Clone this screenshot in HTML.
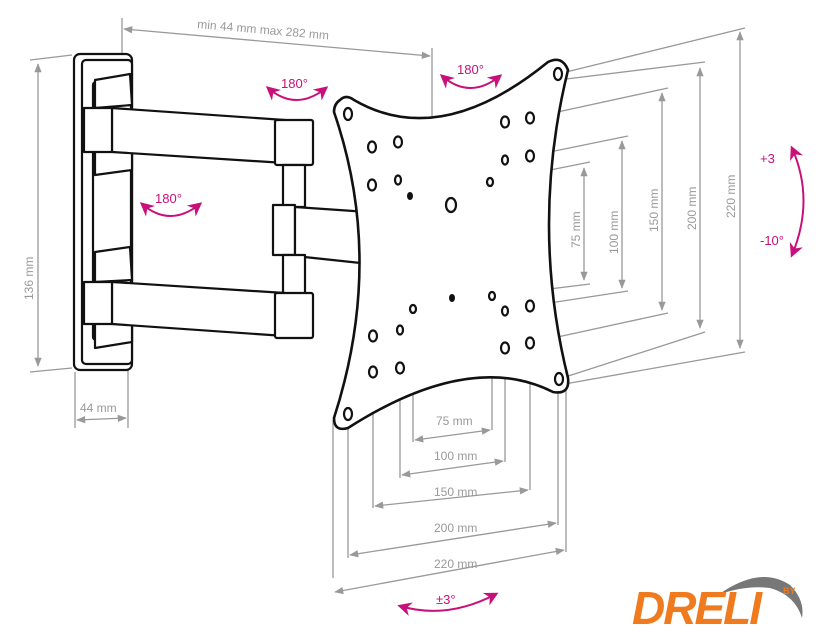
<!DOCTYPE html>
<html><head><style>body{margin:0;background:#fff}svg{display:block}</style></head><body>
<svg width="830" height="640" viewBox="0 0 830 640" xmlns="http://www.w3.org/2000/svg" font-family="Liberation Sans, sans-serif">
<defs>
<marker id="a" viewBox="0 0 10 10" refX="9" refY="5" markerWidth="9" markerHeight="7" orient="auto-start-reverse"><path d="M0,1 L10,5 L0,9 z" fill="#999"/></marker>
<marker id="m" viewBox="0 0 10 10" refX="8" refY="5" markerWidth="7" markerHeight="7" orient="auto-start-reverse"><path d="M0,0 L10,5 L0,10 L3,5 z" fill="#c8107a"/></marker>
</defs>
<g stroke="#999" stroke-width="1.3" fill="none">
<line x1="122" y1="18" x2="122" y2="60"/><line x1="432" y1="48" x2="432" y2="126"/>
<line x1="124" y1="29" x2="430" y2="56" marker-start="url(#a)" marker-end="url(#a)"/>
<line x1="30" y1="60" x2="72" y2="55"/><line x1="30" y1="372" x2="72" y2="368"/>
<line x1="38" y1="64" x2="38" y2="366" marker-start="url(#a)" marker-end="url(#a)"/>
<line x1="75" y1="372" x2="75" y2="428"/><line x1="128" y1="360" x2="128" y2="428"/>
<line x1="77" y1="420" x2="126" y2="418" marker-start="url(#a)" marker-end="url(#a)"/>
<line x1="558" y1="74" x2="745" y2="28"/><line x1="558" y1="80" x2="705" y2="62"/>
<line x1="530" y1="118" x2="668" y2="88"/><line x1="530" y1="156" x2="628" y2="136"/>
<line x1="490" y1="182" x2="590" y2="162"/>
<line x1="492" y1="296" x2="590" y2="284"/><line x1="530" y1="306" x2="628" y2="291"/>
<line x1="530" y1="343" x2="668" y2="313"/><line x1="559" y1="379" x2="705" y2="332"/>
<line x1="559" y1="385" x2="745" y2="352"/>
<line x1="584" y1="168" x2="584" y2="280" marker-start="url(#a)" marker-end="url(#a)"/>
<line x1="622" y1="141" x2="622" y2="288" marker-start="url(#a)" marker-end="url(#a)"/>
<line x1="662" y1="93" x2="662" y2="310" marker-start="url(#a)" marker-end="url(#a)"/>
<line x1="700" y1="68" x2="700" y2="328" marker-start="url(#a)" marker-end="url(#a)"/>
<line x1="740" y1="32" x2="740" y2="348" marker-start="url(#a)" marker-end="url(#a)"/>
<line x1="413" y1="309" x2="413" y2="442"/><line x1="492" y1="296" x2="492" y2="430"/>
<line x1="400" y1="368" x2="400" y2="478"/><line x1="505" y1="348" x2="505" y2="462"/>
<line x1="373" y1="372" x2="373" y2="508"/><line x1="530" y1="343" x2="530" y2="490"/>
<line x1="348" y1="414" x2="348" y2="558"/><line x1="558" y1="385" x2="558" y2="525"/>
<line x1="333" y1="420" x2="333" y2="578"/><line x1="566" y1="385" x2="566" y2="552"/>
<line x1="415" y1="440" x2="490" y2="430" marker-start="url(#a)" marker-end="url(#a)"/>
<line x1="402" y1="475" x2="503" y2="461" marker-start="url(#a)" marker-end="url(#a)"/>
<line x1="375" y1="506" x2="528" y2="490" marker-start="url(#a)" marker-end="url(#a)"/>
<line x1="350" y1="555" x2="556" y2="523" marker-start="url(#a)" marker-end="url(#a)"/>
<line x1="335" y1="592" x2="564" y2="550" marker-start="url(#a)" marker-end="url(#a)"/>
</g>
<g fill="#999" font-size="12">
<text x="197" y="28" transform="rotate(5 197 28)">min 44 mm max 282 mm</text>
<text x="33" y="300" transform="rotate(-90 33 300)">136 mm</text>
<text x="80" y="412">44 mm</text>
<text x="580" y="248" transform="rotate(-90 580 248)">75 mm</text>
<text x="618" y="254" transform="rotate(-90 618 254)">100 mm</text>
<text x="658" y="232" transform="rotate(-90 658 232)">150 mm</text>
<text x="696" y="230" transform="rotate(-90 696 230)">200 mm</text>
<text x="735" y="218" transform="rotate(-90 735 218)">220 mm</text>
<text x="436" y="425">75 mm</text><text x="434" y="460">100 mm</text>
<text x="434" y="496">150 mm</text><text x="434" y="532">200 mm</text><text x="434" y="568">220 mm</text>
</g>
<g stroke="#111" stroke-width="2.2" fill="#fff" stroke-linejoin="round">
<rect x="74" y="54" width="58" height="316" rx="6"/>
<rect x="82" y="60" width="50" height="304" rx="4"/>
<rect x="93" y="82" width="38" height="258" rx="3"/>
<path d="M95,80 L130,74 L132,105 L95,108 z"/>
<path d="M95,145 L132,145 L132,170 L95,175 z"/>
<path d="M112,108 L285,120 L285,163 L112,152 z"/>
<path d="M84,108 L112,108 L112,152 L84,152 z"/>
<rect x="275" y="120" width="38" height="45" rx="2"/>
<rect x="283" y="165" width="22" height="42"/>
<rect x="273" y="205" width="22" height="50"/>
<path d="M295,207 L368,212 L370,264 L295,256 z"/>
<rect x="283" y="255" width="22" height="40"/>
<path d="M95,252 L130,247 L132,280 L95,282 z"/>
<path d="M95,320 L132,320 L132,342 L95,348 z"/>
<path d="M112,282 L285,293 L285,336 L112,324 z"/>
<path d="M84,282 L112,282 L112,324 L84,324 z"/>
<rect x="275" y="293" width="38" height="45" rx="2"/>
<path d="M340,100 Q346,94 354,100 Q440,150 548,62 Q562,55 568,70 Q530,225 568,378 Q570,395 553,392 Q470,350 348,428 Q334,432 334,418 Q385,260 334,112 Q334,104 340,100 z" stroke-width="2.6"/>
</g>
<g stroke="#111" stroke-width="2.2" fill="#fff">
<ellipse cx="348" cy="114" rx="4" ry="6"/><ellipse cx="558" cy="74" rx="4" ry="6"/>
<ellipse cx="559" cy="379" rx="4" ry="6"/><ellipse cx="348" cy="414" rx="4" ry="6"/>
<ellipse cx="372" cy="147" rx="4" ry="5.5"/><ellipse cx="398" cy="142" rx="4" ry="5.5"/>
<ellipse cx="372" cy="185" rx="4" ry="5.5"/><ellipse cx="398" cy="180" rx="3" ry="4.5"/>
<ellipse cx="451" cy="205" rx="5" ry="7"/>
<ellipse cx="505" cy="122" rx="4" ry="5.5"/><ellipse cx="530" cy="118" rx="4" ry="5.5"/>
<ellipse cx="505" cy="160" rx="3" ry="4.5"/><ellipse cx="530" cy="156" rx="4" ry="5.5"/>
<ellipse cx="490" cy="182" rx="3" ry="4"/><ellipse cx="492" cy="296" rx="3" ry="4"/>
<ellipse cx="413" cy="309" rx="3" ry="4"/><ellipse cx="505" cy="311" rx="3" ry="4.5"/>
<ellipse cx="530" cy="306" rx="4" ry="5.5"/><ellipse cx="400" cy="330" rx="3" ry="4.5"/>
<ellipse cx="373" cy="336" rx="4" ry="5.5"/><ellipse cx="505" cy="348" rx="4" ry="5.5"/>
<ellipse cx="530" cy="343" rx="4" ry="5.5"/><ellipse cx="373" cy="372" rx="4" ry="5.5"/>
<ellipse cx="400" cy="368" rx="4" ry="5.5"/>
</g>
<g fill="#111"><ellipse cx="410" cy="196" rx="3" ry="4"/><ellipse cx="452" cy="298" rx="3" ry="4"/></g>
<g stroke="#c8107a" stroke-width="2" fill="none">
<path d="M268,88 Q296,112 326,88" marker-start="url(#m)" marker-end="url(#m)"/>
<path d="M142,204 Q170,228 200,204" marker-start="url(#m)" marker-end="url(#m)"/>
<path d="M442,76 Q470,100 500,76" marker-start="url(#m)" marker-end="url(#m)"/>
<path d="M400,606 Q447,620 496,594" marker-start="url(#m)" marker-end="url(#m)"/>
<path d="M792,148 Q815,200 792,255" marker-start="url(#m)" marker-end="url(#m)"/>
</g>
<g fill="#c8107a" font-size="13">
<text x="281" y="88">180°</text><text x="155" y="203">180°</text><text x="457" y="74">180°</text>
<text x="436" y="604">±3°</text><text x="760" y="163">+3</text><text x="760" y="245">-10°</text>
</g>
<path d="M718,595 Q760,565 790,585 Q805,600 802,618 Q795,595 770,588 Q745,585 718,595 z" fill="#777"/>
<text x="632" y="624" font-size="46" font-weight="bold" font-style="italic" fill="#f07a1e" letter-spacing="-2">DRELI</text>
<text x="783" y="594" font-size="9" font-weight="bold" fill="#f07a1e">BY</text>
</svg>
</body></html>
